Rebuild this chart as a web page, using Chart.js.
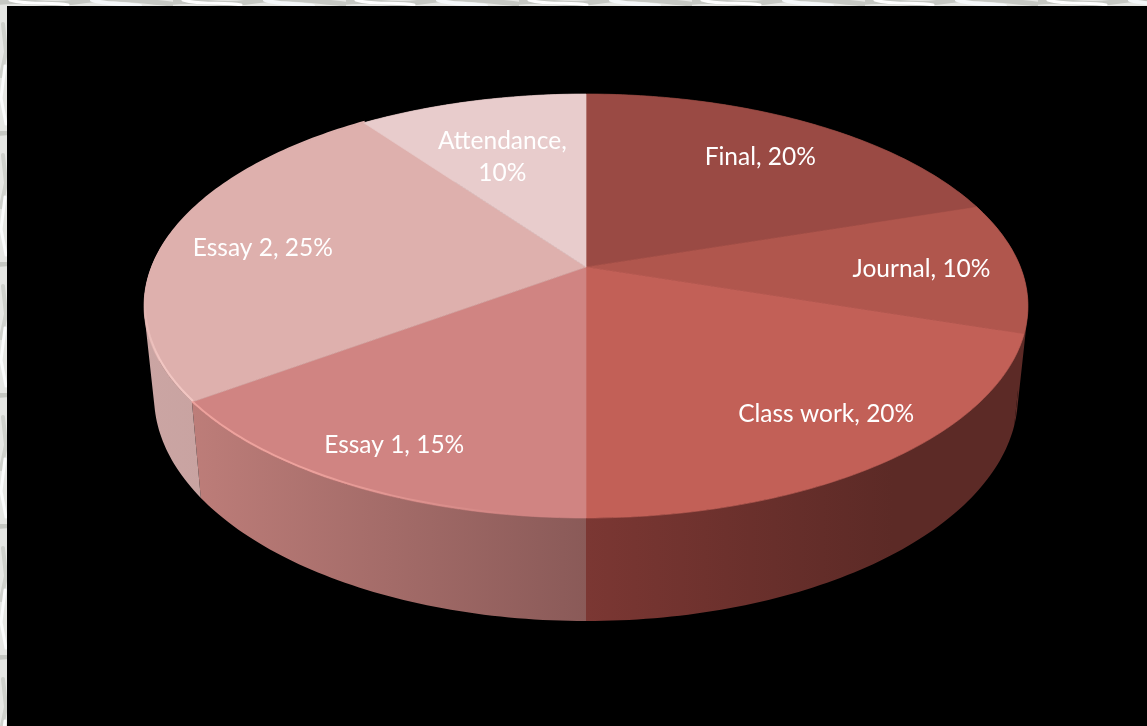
<!DOCTYPE html>
<html>
<head>
<meta charset="utf-8">
<title>Grade weights</title>
<script src="https://cdn.jsdelivr.net/npm/chart.js@4/dist/chart.umd.min.js"></script>
<style>
  html, body { margin: 0; padding: 0; width: 1147px; height: 726px; overflow: hidden; }
  body {
    position: relative;
    background-color: #e6e7e4;
    background-image: url("data:image/svg+xml,%3Csvg xmlns='http://www.w3.org/2000/svg' width='173' height='131'%3E%3Cg fill='none' stroke-linecap='round'%3E%3Cpath d='M-5 3C25 -2 45 7 75 2S120 -2 180 5' stroke='%23c6c8c3' stroke-width='5'/%3E%3Cpath d='M10 0C30 6 52 1 68 5' stroke='%23fff' stroke-width='3'/%3E%3Cpath d='M92 0C105 5 125 3 140 6' stroke='%23f4f7f9' stroke-width='4'/%3E%3Cpath d='M3 24L6 52L1 76' stroke='%23cfd1cc' stroke-width='4'/%3E%3Cpath d='M5 66L1 98L6 124' stroke='%23fbfcfc' stroke-width='3'/%3E%3C/g%3E%3C/svg%3E");
  }
  #panel { position: absolute; left: 7px; top: 6px; right: 0; bottom: 0; background: #000; }
  #gradeChart { position: absolute; left: 0; top: 0; }
</style>
</head>
<body>
<div id="panel"></div>
<canvas id="gradeChart" width="1147" height="726"></canvas>
<script>
const categories = ['Final', 'Journal', 'Class work', 'Essay 1', 'Essay 2', 'Attendance'];
const percents = [20, 10, 20, 15, 25, 10];

const topColors = ['#9a4a44', '#b0564d', '#c26057', '#d08482', '#deb0ad', '#e8cccc'];
const rimColors = [null, null, null, '#eda29d', '#f1c6c2', null];
// wall shading, left stop then right stop
const wallColors = [
  ['#5c2a26', '#5c2a26'], ['#5c2a26', '#5c2a26'], ['#7b3733', '#5c2a26'],
  ['#bd7d79', '#8a5a58'], ['#cba5a3', '#c09e9c'], ['#c9a3a1', '#c9a3a1']
];
// how far out along each slice's middle the label sits, a pixel nudge, and where it wraps
const labelReach = [0.75, 0.77, 0.81, 0.85, 0.77, 0.69];
const labelNudgeX = [2, 1, 5, 3, 0, -1];
const labelNudgeY = [2, 2, -6, -2, 5, 10];
const labelWrap = [false, false, false, false, false, true];

// tilted disc: unit circle seen in perspective, near edge at the bottom
const TILT = 0.184;
const TOP_FACE = { x: 586, y: 267, a: 434.4, b: 204.8 };
const BOTTOM_FACE = { x: 586, y: 354.6, a: 424.6, b: 217.4 };

function project(face, angle, r) {
  const u = Math.cos(angle) * r, v = Math.sin(angle) * r;
  const w = 1 - TILT * v;
  return { x: face.x + face.a * u / w, y: face.y + face.b * v / w };
}

function arcPoints(face, start, end) {
  const steps = Math.max(4, Math.ceil((end - start) * 60));
  const pts = [];
  for (let i = 0; i <= steps; i++) pts.push(project(face, start + (end - start) * i / steps, 1));
  return pts;
}

function tracePoints(ctx, pts, moveFirst) {
  pts.forEach((p, i) => {
    if (i === 0 && moveFirst) ctx.moveTo(p.x, p.y);
    else ctx.lineTo(p.x, p.y);
  });
}

function signedArea(q) {
  let sum = 0;
  q.forEach((p, i) => {
    const n = q[(i + 1) % q.length];
    sum += p.x * n.y - n.x * p.y;
  });
  return sum;
}

const tiltedPie = {
  id: 'tiltedPie',
  beforeDatasetsDraw(chart) {
    const ctx = chart.ctx;
    const arcs = chart.getDatasetMeta(0).data;
    ctx.save();
    ctx.lineJoin = 'round';

    // side wall: the band folds over at the silhouette, so add it as quads of one
    // winding to a single path, otherwise the two folds cancel out under nonzero fill
    arcs.forEach((arc, i) => {
      const upper = arcPoints(TOP_FACE, arc.startAngle, arc.endAngle);
      const lower = arcPoints(BOTTOM_FACE, arc.startAngle, arc.endAngle);
      const xs = upper.concat(lower).map(p => p.x);
      const g = ctx.createLinearGradient(Math.min(...xs), 0, Math.max(...xs), 0);
      // class work runs dark well before its right end
      g.addColorStop(0, wallColors[i][0]);
      if (i === 2) g.addColorStop(0.7, wallColors[i][1]);
      g.addColorStop(1, wallColors[i][1]);
      ctx.beginPath();
      for (let s = 0; s < upper.length - 1; s++) {
        const quad = [upper[s], upper[s + 1], lower[s + 1], lower[s]];
        if (signedArea(quad) < 0) quad.reverse();
        tracePoints(ctx, quad, true);
        ctx.closePath();
      }
      ctx.fillStyle = g;
      ctx.fill();
    });

    // top face, stroked in its own colour so no seams show
    arcs.forEach((arc, i) => {
      ctx.beginPath();
      ctx.moveTo(TOP_FACE.x, TOP_FACE.y);
      tracePoints(ctx, arcPoints(TOP_FACE, arc.startAngle, arc.endAngle), false);
      ctx.closePath();
      ctx.fillStyle = topColors[i];
      ctx.fill();
      ctx.strokeStyle = topColors[i];
      ctx.lineWidth = 0.7;
      ctx.stroke();
    });

    // light bevel along the rim on the left slices, fading out at both ends
    arcs.forEach((arc, i) => {
      if (!rimColors[i]) return;
      const pts = arcPoints(TOP_FACE, arc.startAngle, arc.endAngle);
      ctx.beginPath();
      tracePoints(ctx, pts.map(p => ({ x: p.x + (i === 4 ? 1 : 0), y: p.y - 1 })), true);
      let g;
      if (i === 3) {
        g = ctx.createLinearGradient(520, 0, 300, 0);
      } else {
        g = ctx.createLinearGradient(0, 300, 0, 360);
      }
      g.addColorStop(0, topColors[i]);
      g.addColorStop(1, rimColors[i]);
      ctx.strokeStyle = g;
      ctx.lineWidth = 2;
      ctx.stroke();
    });

    // data labels
    ctx.fillStyle = '#fff';
    ctx.font = '24.5px Lato, "Open Sans", sans-serif';
    ctx.textAlign = 'center';
    ctx.textBaseline = 'middle';
    arcs.forEach((arc, i) => {
      const p = project(TOP_FACE, (arc.startAngle + arc.endAngle) / 2, labelReach[i]);
      const x = p.x + labelNudgeX[i], y = p.y + labelNudgeY[i];
      const pct = percents[i] + '%';
      if (labelWrap[i]) {
        ctx.fillText(categories[i] + ',', x, y - 16);
        ctx.fillText(pct, x, y + 16);
      } else {
        ctx.fillText(categories[i] + ', ' + pct, x, y);
      }
    });

    ctx.restore();
    return false;
  }
};

new Chart(document.getElementById('gradeChart'), {
  type: 'pie',
  data: {
    labels: categories,
    datasets: [{ data: percents, backgroundColor: topColors, borderWidth: 0 }]
  },
  options: {
    responsive: false,
    animation: false,
    plugins: { legend: { display: false }, tooltip: { enabled: false } }
  },
  plugins: [tiltedPie]
});
</script>
</body>
</html>
